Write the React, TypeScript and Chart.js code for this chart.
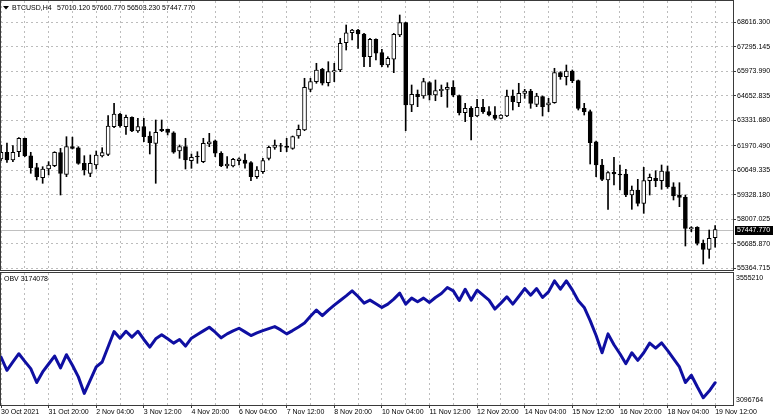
import React, { useEffect, useRef } from "react";
import { Chart, registerables } from "chart.js";

Chart.register(...registerables);

// ---------- data ----------
const opens = [
  61253, 61614, 61199, 61646, 62368, 61430, 60784, 60245, 60714, 60892,
  61592, 60428, 61915, 61861, 61021, 60482, 60929, 61414, 61506, 62993,
  63677, 62993, 63499, 62761, 62993, 62492, 62098, 62853, 62853, 62669,
  61684, 61915, 61161, 61414, 61107, 62061, 62238, 61560, 60876, 60876,
  61161, 61199, 61053, 60299, 60569, 61290, 61883, 61969, 61953, 61829,
  62492, 62815, 65007, 65417, 66085, 65363, 65939, 66047, 67518, 68056,
  68202, 67986, 66764, 67701, 66979, 66316, 66624, 67933, 68595, 64162,
  64738, 64646, 65363, 64700, 64932, 65007, 65115, 64663, 63747, 63984,
  63569, 64038, 63801, 63623, 63445, 63569, 64646, 64285, 64792, 64916,
  64199, 64609, 64162, 64285, 65902, 65686, 65993, 65471, 63984, 63801,
  62184, 60929, 60121, 60536, 60440, 60445, 59313, 59583, 58866, 60084,
  60213, 60084, 60569, 59760, 59313, 59189, 57480, 57573, 56711, 56388,
  57010.12,
];
const highs = [
  62007, 62115, 61969, 62400, 62380, 61614, 61021, 60838, 61107, 61646,
  61829, 62454, 62430, 61915, 61430, 61468, 61684, 61861, 63585, 64253,
  63714, 63623, 63520, 63445, 63445, 62723, 63354, 63354, 62869, 62723,
  62007, 62368, 61522, 61646, 62368, 62637, 62276, 61646, 61377, 61290,
  61320, 61522, 61107, 60838, 61290, 61953, 62276, 62098, 62368, 62492,
  63084, 65600, 65600, 66408, 66139, 66494, 66408, 67755, 68471, 68240,
  68240, 68024, 67755, 67720, 67162, 66764, 68024, 69010, 68620, 65239,
  64970, 65600, 65417, 65508, 65239, 65363, 65471, 64700, 64253, 64070,
  64469, 64469, 64070, 64070, 63650, 64970, 64970, 65331, 65007, 65007,
  64792, 64646, 64522, 66139, 65956, 66316, 66047, 65508, 64253, 63892,
  62222, 61236, 60569, 61344, 60929, 60698, 59798, 60159, 60806, 60445,
  60622, 60929, 60876, 59976, 59976, 59313, 57606, 57606, 56889, 57428,
  57660.77,
];
const lows = [
  61161, 61064, 61107, 61377, 61377, 60482, 60121, 59944, 60391, 60838,
  59313, 60299, 61791, 60967, 60391, 60299, 60714, 61360, 61430, 62939,
  62970, 62583, 62723, 62691, 62184, 61522, 59944, 62723, 62546, 61560,
  61290, 60714, 60752, 61021, 61053, 61915, 61377, 60838, 60752, 60822,
  60929, 60752, 60084, 60213, 60482, 61199, 61775, 61646, 61646, 61775,
  62368, 62777, 64878, 65331, 65239, 65185, 65417, 65956, 67124, 67663,
  67216, 66225, 66225, 66586, 66225, 66200, 65902, 67841, 62777, 63801,
  64070, 64522, 64431, 64393, 64609, 64038, 64609, 63623, 63262, 62276,
  63531, 63714, 63569, 63354, 63407, 63531, 63892, 64070, 64522, 63984,
  64070, 63569, 63801, 64253, 65546, 65239, 65363, 63892, 63623, 60983,
  60299, 60084, 58543, 59852, 59583, 59222, 58543, 58721, 58327, 59313,
  59760, 59620, 59674, 59044, 58683, 56566, 57336, 56620, 55596, 55903,
  56503.23,
];
const closes = [
  61614, 61199, 61614, 62368, 61414, 60784, 60299, 60714, 60929, 61614,
  60482, 61915, 61829, 61021, 60660, 61021, 61468, 61592, 63030, 63677,
  63046, 63499, 62761, 62993, 62454, 62131, 62691, 62777, 62691, 61614,
  61915, 61199, 61344, 61360, 62098, 62184, 61560, 60876, 60983, 61236,
  61260, 61021, 60299, 60660, 61161, 61883, 62007, 61937, 61883, 62454,
  62853, 65115, 65417, 66047, 65331, 65956, 66009, 67485, 68056, 68202,
  67986, 66764, 67701, 66947, 66316, 66677, 67970, 68595, 64162, 64738,
  64609, 65417, 64700, 64932, 65007, 65115, 64700, 63747, 63984, 63531,
  64038, 63801, 63623, 63445, 63623, 64646, 64339, 64792, 64916, 64253,
  64646, 64070, 64285, 65902, 65686, 65993, 65471, 63984, 63801, 62131,
  60929, 60159, 60515, 60445, 60400, 59313, 59583, 58866, 60084, 60267,
  60084, 60606, 59760, 59259, 59189, 57519, 57560, 56711, 56388, 56981,
  57447.77,
];
const obvValues = [
  3263360, 3217400, 3246130, 3274850, 3248430, 3223150, 3174890, 3211660, 3239240, 3266810,
  3225450, 3271410, 3234640, 3194420, 3136970, 3182930, 3228890, 3246130, 3298980, 3351840,
  3328860, 3352990, 3332300, 3352990, 3324260, 3297830, 3326560, 3340350, 3326560, 3311620,
  3324260, 3301280, 3328860, 3341500, 3354140, 3366770, 3349540, 3330010, 3343790, 3354140,
  3363330, 3350690, 3338050, 3347240, 3355280, 3362180, 3369070, 3357580, 3343790, 3355280,
  3367920, 3381710, 3404690, 3426520, 3406990, 3426520, 3443760, 3459840, 3475930, 3493160,
  3473630, 3450650, 3460990, 3448350, 3435710, 3447200, 3464440, 3485120, 3447200, 3467890,
  3455250, 3467890, 3452950, 3470180, 3483970, 3504650, 3493160, 3459840, 3498910, 3460990,
  3495460, 3478230, 3460990, 3429970, 3450650, 3472480, 3447200, 3473630, 3501210, 3478230,
  3501210, 3470180, 3489720, 3527630, 3498910, 3527630, 3496610, 3458690, 3435710, 3389750,
  3338050, 3278300, 3343790, 3305880, 3274850, 3240380, 3278300, 3251870, 3278300, 3311620,
  3294390, 3312770, 3286340, 3257620, 3228890, 3174890, 3200170, 3159950, 3122040, 3145020,
  3174078,
];
const timeTickLabels = [
  "30 Oct 2021", "31 Oct 20:00", "2 Nov 04:00", "3 Nov 12:00", "4 Nov 20:00",
  "6 Nov 04:00", "7 Nov 12:00", "8 Nov 20:00", "10 Nov 04:00", "11 Nov 12:00",
  "12 Nov 20:00", "14 Nov 04:00", "15 Nov 12:00", "16 Nov 20:00", "18 Nov 04:00",
  "19 Nov 12:00",
];
const priceTickLabels = [
  "68616.300", "67295.145", "65973.990", "64652.835", "63331.680", "61970.490",
  "60649.335", "59328.180", "58007.025", "56685.870", "55364.715",
];
const obvScaleLabels = ["3555210", "3096764"];
const symbolTitle = "BTCUSD,H4";
const ohlcTitle = "57010.120 57660.770 56503.230 57447.770";
const obvTitle = "OBV 3174078";
const lastPriceLabel = "57447.770";

const PRICE_MIN = 55273;
const PRICE_MAX = 69764;
const OBV_MIN = 3096764;
const OBV_MAX = 3555210;
const SHIFT_BARS = 3;

// ---------- styles ----------
const FONT = '"Liberation Sans", Arial, sans-serif';
const GRID = "#bcbcbc";
const FRAME = "#3a3a3a";
const OBV_COLOR = "#0f0fa2";
const AXIS_W = 42;

const categories = [...opens.map((_, i) => String(i))];
for (let k = 0; k < SHIFT_BARS; k++) categories.push("s" + k);

const framePlugin = {
  id: "frame",
  afterDraw(chart: any) {
    const { ctx, chartArea: a } = chart;
    ctx.save();
    ctx.strokeStyle = FRAME;
    ctx.lineWidth = 1;
    ctx.strokeRect(a.left - 0.5, a.top - 0.5, a.right - a.left + 1, a.bottom - a.top + 1);
    ctx.restore();
  },
};

const pricePanePlugin = {
  id: "pricePane",
  beforeDatasetsDraw(chart: any) {
    const { ctx, chartArea: a } = chart;
    const y = Math.round(chart.scales.y.getPixelForValue(closes[closes.length - 1])) + 0.5;
    ctx.save();
    ctx.strokeStyle = "#c0c0c0";
    ctx.lineWidth = 1;
    ctx.beginPath();
    ctx.moveTo(a.left, y);
    ctx.lineTo(a.right, y);
    ctx.stroke();
    ctx.restore();
  },
  afterDraw(chart: any) {
    const { ctx, chartArea: a } = chart;
    const y = chart.scales.y.getPixelForValue(closes[closes.length - 1]);
    ctx.save();
    ctx.fillStyle = "#000";
    ctx.fillRect(a.right + 2, Math.round(y) - 4, 38, 9);
    ctx.fillStyle = "#fff";
    ctx.font = `7px ${FONT}`;
    ctx.textBaseline = "middle";
    ctx.textAlign = "left";
    ctx.fillText(lastPriceLabel, a.right + 4, Math.round(y) + 0.5);
    // title
    ctx.fillStyle = "#000";
    ctx.beginPath();
    ctx.moveTo(3, 6);
    ctx.lineTo(9, 6);
    ctx.lineTo(6, 9.5);
    ctx.closePath();
    ctx.fill();
    ctx.fillText(symbolTitle, 12, 8);
    ctx.fillText(ohlcTitle, 57, 8);
    ctx.restore();
  },
};

const obvPanePlugin = {
  id: "obvPane",
  afterDraw(chart: any) {
    const { ctx, chartArea: a } = chart;
    ctx.save();
    ctx.fillStyle = "#000";
    ctx.font = `7px ${FONT}`;
    ctx.textBaseline = "middle";
    ctx.textAlign = "left";
    ctx.fillText(obvTitle, 4, a.top + 6.5);
    ctx.fillText(obvScaleLabels[0], a.right + 3, a.top + 5);
    ctx.fillText(obvScaleLabels[1], a.right + 3, a.bottom - 5);
    ctx.restore();
  },
};

const noPad = (s: any) => {
  s.paddingTop = 0;
  s.paddingBottom = 0;
  s.paddingLeft = 0;
  s.paddingRight = 0;
};

export default function App() {
  const priceRef = useRef<HTMLCanvasElement>(null);
  const obvRef = useRef<HTMLCanvasElement>(null);

  useEffect(() => {
    document.body.style.margin = "0";
    Chart.defaults.font.family = FONT;
    Chart.defaults.font.size = 7;
    Chart.defaults.color = "#000";

    const gridColor = (ctx: any) => (ctx.index % 4 === 0 ? GRID : "rgba(0,0,0,0)");

    const priceChart = new Chart(priceRef.current as HTMLCanvasElement, {
      type: "bar",
      data: {
        labels: categories,
        datasets: [
          {
            label: "body",
            data: opens.map((o, i) => [o, closes[i]]) as any,
            backgroundColor: opens.map((o, i) => (closes[i] >= o ? "#ffffff" : "#000000")),
            borderColor: "#000000",
            borderWidth: 1,
            borderSkipped: false,
            barThickness: 4,
            grouped: false,
          },
          {
            label: "wick",
            data: lows.map((l, i) => [l, highs[i]]) as any,
            backgroundColor: "#000000",
            borderWidth: 0,
            barThickness: 1,
            grouped: false,
          },
        ],
      },
      options: {
        animation: false,
        responsive: false,
        devicePixelRatio: 1,
        events: [],
        layout: { padding: { top: 1, left: 1, right: 0, bottom: 1 } },
        plugins: { legend: { display: false }, tooltip: { enabled: false } },
        scales: {
          x: {
            type: "category",
            offset: false,
            ticks: { display: false, autoSkip: false },
            grid: { offset: false, color: gridColor, drawTicks: false },
            border: { display: false, dash: [2, 3] },
            afterFit: (s: any) => {
              s.height = 0;
              noPad(s);
            },
          },
          y: {
            position: "right",
            min: PRICE_MIN,
            max: PRICE_MAX,
            afterBuildTicks: (s: any) => {
              s.ticks = priceTickLabels.map((t) => ({ value: parseFloat(t) }));
            },
            ticks: {
              callback: (_v: any, i: number) => priceTickLabels[i],
              font: { family: FONT, size: 7 },
              color: "#000",
              padding: 1,
            },
            grid: { color: GRID, tickColor: FRAME, tickLength: 3 },
            border: { display: false, dash: [2, 3] },
            afterFit: (s: any) => {
              s.width = AXIS_W;
              noPad(s);
            },
          },
        },
      } as any,
      plugins: [pricePanePlugin, framePlugin],
    });

    const obvChart = new Chart(obvRef.current as HTMLCanvasElement, {
      type: "line",
      data: {
        labels: categories,
        datasets: [
          {
            label: "OBV",
            data: obvValues,
            borderColor: OBV_COLOR,
            borderWidth: 3,
            pointRadius: 0,
            tension: 0,
            fill: false,
            borderJoinStyle: "round",
            borderCapStyle: "round",
          },
        ],
      },
      options: {
        animation: false,
        responsive: false,
        devicePixelRatio: 1,
        events: [],
        layout: { padding: { top: 2, left: 1, right: 0, bottom: 0 } },
        plugins: { legend: { display: false }, tooltip: { enabled: false } },
        scales: {
          x: {
            type: "category",
            offset: false,
            ticks: {
              autoSkip: false,
              maxRotation: 0,
              minRotation: 0,
              align: "start",
              padding: 0,
              font: { family: FONT, size: 7 },
              color: "#000",
              callback: (_v: any, i: number) =>
                i % 8 === 0 && i / 8 < timeTickLabels.length ? timeTickLabels[i / 8] : "",
            },
            grid: {
              offset: false,
              color: gridColor,
              tickColor: (ctx: any) => (ctx.index % 8 === 0 && ctx.index <= 120 ? FRAME : "rgba(0,0,0,0)"),
              tickLength: 3,
            },
            border: { display: false, dash: [2, 3] },
            afterFit: (s: any) => {
              s.height = 13;
              noPad(s);
            },
          },
          y: {
            position: "right",
            min: OBV_MIN,
            max: OBV_MAX,
            ticks: { display: false },
            grid: { display: false },
            border: { display: false },
            afterFit: (s: any) => {
              s.width = AXIS_W;
              noPad(s);
            },
          },
        },
      } as any,
      plugins: [obvPanePlugin, framePlugin],
    });

    return () => {
      priceChart.destroy();
      obvChart.destroy();
    };
  }, []);

  return (
    <div style={{ position: "fixed", left: 0, top: 0, width: 775, height: 418, background: "#fff" }}>
      <canvas ref={priceRef} width={775} height={271} style={{ position: "absolute", left: 0, top: 0 }} />
      <canvas ref={obvRef} width={775} height={147} style={{ position: "absolute", left: 0, top: 271 }} />
    </div>
  );
}
